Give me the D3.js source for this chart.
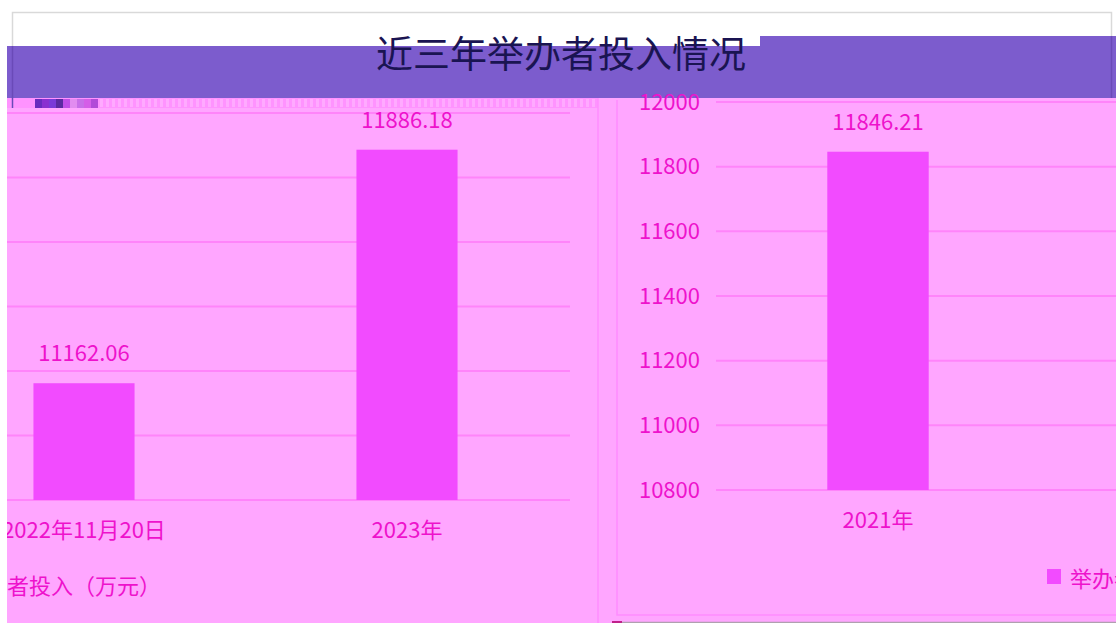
<!DOCTYPE html>
<html><head><meta charset="utf-8">
<script src="https://cdn.jsdelivr.net/npm/d3@7"></script>
<style>
html,body{margin:0;padding:0;background:#fff;overflow:hidden}
svg{display:block}
text{font-family:"Noto Sans CJK SC","Noto Sans",sans-serif}
</style></head><body>
<svg id="c" width="1116" height="623"></svg>
<script>
const title = "近三年举办者投入情况";
const seriesName = "举办者投入（万元）";
const leftCategories = ["2022年11月20日", "2023年"];
const leftValues = [11162.06, 11886.18];
const rightCategories = ["2021年"];
const rightValues = [11846.21];
const yTicks = [10800, 11000, 11200, 11400, 11600, 11800, 12000];
const yDomain = [10800, 12000];

const svg = d3.select("#c");
const W = 1116, H = 623;
const C = {band:"#7c5ccd", title:"#1a1452", pink:"#ffa6ff", strip:"#ff93ff", bar:"#f24bff", text:"#ee12cc", grid:"#ff84fa", frame:"#ff8cff", border:"#d9d9d9"};

svg.append("defs").append("clipPath").attr("id","clipL")
  .append("rect").attr("x",7).attr("y",0).attr("width",W-7).attr("height",H);

// outer light border
svg.append("rect").attr("x",12.5).attr("y",12.5).attr("width",1099).attr("height",90).attr("fill","none").attr("stroke",C.border).attr("stroke-width",1.5);

// pink canvas
svg.append("rect").attr("x",7).attr("y",98).attr("width",W-7).attr("height",H-98).attr("fill",C.pink);
// top strip
svg.append("rect").attr("x",7).attr("y",98).attr("width",591).attr("height",10).attr("fill",C.strip);
const hatch = svg.append("g");
d3.range(100, 598, 6).forEach(x=>{
  hatch.append("rect").attr("x",x).attr("y",99).attr("width",3).attr("height",8).attr("fill","#ffb4ff").attr("opacity",0.7);
});
// glitch icons
const glitch = [[35,"#6a2bbf"],[42,"#8a2fd0"],[49,"#7a3ad8"],[56,"#5a2aa0"],[63,"#c04de8"],[70,"#e28cf0"],[77,"#c86ee8"],[84,"#d55de8"],[91,"#b24ad8"]];
glitch.forEach(([x,c])=>svg.append("rect").attr("x",x).attr("y",99).attr("width",7).attr("height",9).attr("fill",c));

// title band (two tops)
svg.append("path").attr("fill",C.band)
  .attr("d","M7,46 L760,46 L760,36 L1116,36 L1116,98 L7,98 Z");
svg.append("line").attr("x1",12.5).attr("x2",12.5).attr("y1",46).attr("y2",108).attr("stroke","#6a4ab8").attr("stroke-width",1.5);
svg.append("line").attr("x1",1111.5).attr("x2",1111.5).attr("y1",36).attr("y2",98).attr("stroke","#6a4ab8").attr("stroke-width",1.5);

svg.append("text").attr("x",561).attr("y",52).attr("text-anchor","middle").attr("dominant-baseline","central")
  .attr("font-size",37).attr("fill",C.title).text(title);

// frames
svg.append("line").attr("x1",598).attr("x2",598).attr("y1",98).attr("y2",H).attr("stroke",C.frame).attr("stroke-width",1.5);
svg.append("path").attr("d","M617,100 L617,615 L1116,615").attr("fill","none").attr("stroke",C.frame).attr("stroke-width",1.5);
svg.append("line").attr("x1",612).attr("x2",W).attr("y1",622.5).attr("y2",622.5).attr("stroke","#b0a0b0").attr("stroke-width",1.5);
svg.append("rect").attr("x",612).attr("y",621).attr("width",10).attr("height",2).attr("fill","#c0208a");

function panel(cats, vals, xRange, yRange, gx0, gx1, showAxis, catY){
  const y = d3.scaleLinear().domain(yDomain).range(yRange);
  const x = d3.scaleBand().domain(cats).range(xRange).paddingInner(0.687).paddingOuter(0.3435);
  const g = svg.append("g").attr("clip-path","url(#clipL)");
  g.selectAll(".grid").data(yTicks).join("line")
    .attr("x1",gx0).attr("x2",gx1).attr("y1",d=>y(d)).attr("y2",d=>y(d))
    .attr("stroke",C.grid).attr("stroke-width",2);
  if(showAxis){
    const ax = g.append("g").attr("transform",`translate(${gx0-16},0)`)
      .call(d3.axisLeft(y).tickValues(yTicks).tickSize(0).tickPadding(0).tickFormat(d3.format("d")));
    ax.select(".domain").remove();
    ax.selectAll("text").attr("font-size",22).attr("fill",C.text).attr("font-family",'"Noto Sans CJK SC",sans-serif');
  }
  g.selectAll(".bar").data(vals).join("rect")
    .attr("x",(d,i)=>x(cats[i])).attr("width",x.bandwidth())
    .attr("y",d=>y(d)).attr("height",d=>y(yDomain[0])-y(d)).attr("fill",C.bar);
  g.selectAll(".val").data(vals).join("text")
    .attr("x",(d,i)=>x(cats[i])+x.bandwidth()/2).attr("y",d=>y(d)-32)
    .attr("text-anchor","middle").attr("dominant-baseline","central")
    .attr("font-size",22).attr("fill",C.text).text(d=>d.toFixed(2));
  g.selectAll(".cat").data(cats).join("text")
    .attr("x",d=>x(d)+x.bandwidth()/2).attr("y",catY)
    .attr("text-anchor","middle").attr("dominant-baseline","central")
    .attr("font-size",22).attr("fill",C.text).text(d=>d);
  return g;
}

panel(leftCategories, leftValues, [-77.5, 568.5], [500, 113], 7, 570, false, 528);
panel(rightCategories, rightValues, [716, 1040], [490, 102], 716, W, true, 518);

// legends
svg.append("rect").attr("x",1047).attr("y",569).attr("width",14).attr("height",15).attr("fill",C.bar);
svg.append("text").attr("x",1070).attr("y",577).attr("dominant-baseline","central").attr("font-size",22).attr("fill",C.text).text(seriesName);
svg.append("g").attr("clip-path","url(#clipL)").append("text").attr("x",-37).attr("y",584).attr("dominant-baseline","central").attr("font-size",22).attr("fill",C.text).text(seriesName);
</script>
</body></html>
